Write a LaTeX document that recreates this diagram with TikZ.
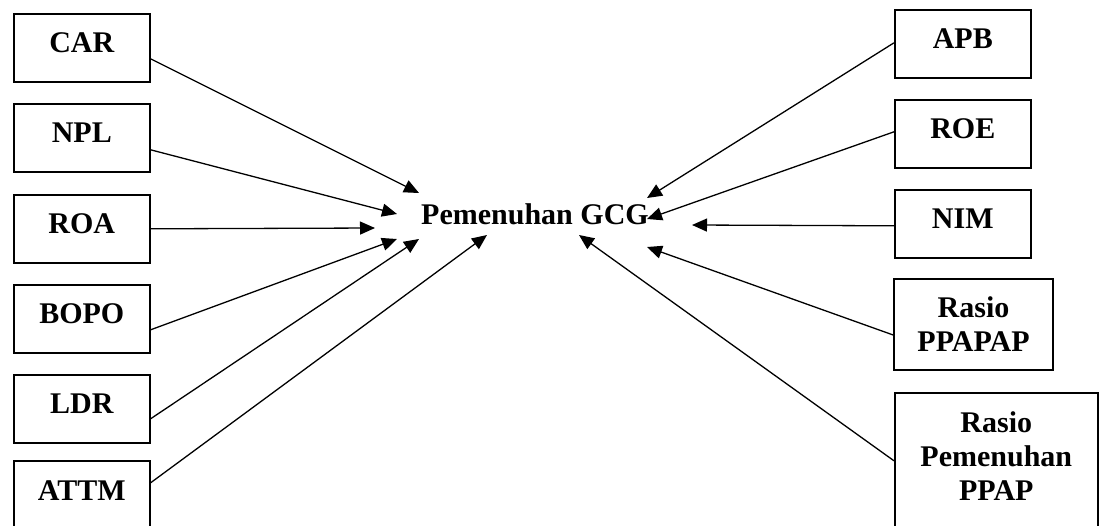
\documentclass[tikz,border=0pt]{standalone}
\usepackage{fontspec}
\setmainfont{Liberation Serif}
\usetikzlibrary{arrows.meta}
\begin{document}
\begin{tikzpicture}[x=1pt,y=-1pt,
  basebox/.style={draw,line width=1.6pt,inner xsep=0pt,inner ysep=0pt,font=\fontsize{30}{34}\selectfont\bfseries},
  box/.style={basebox,anchor=north west,minimum width=136pt,text height=39pt,text depth=29pt},
  conn/.style={line width=1.3pt,-{Triangle[length=15pt,width=13pt]}},
  lbl/.style={font=\fontsize{30}{34}\selectfont\bfseries,inner sep=0pt}]
\clip (0,0) rectangle (1099,525);
% left boxes
\node[box] (car) at (13,13) {CAR};
\node[box] (npl) at (13,103) {NPL};
\node[box] (roa) at (13,194) {ROA};
\node[box] (bopo) at (13,284) {BOPO};
\node[box] (ldr) at (13,374) {LDR};
\node[box,text height=40pt,text depth=40pt] (attm) at (13,460) {ATTM};
% right boxes
\node[box] (apb) at (894,9) {APB};
\node[box] (roe) at (894,99) {ROE};
\node[box] (nim) at (894,189) {NIM};
\node[basebox,align=center,minimum width=159pt,minimum height=91pt] (ppapap) at (973.5,324.5) {Rasio\\PPAPAP};
\node[basebox,align=center,anchor=north west,minimum width=203pt,text height=108pt,text depth=42pt] (rp) at (894,392) {Rasio\\Pemenuhan\\PPAP};
% centre
\node[lbl,anchor=base] (gcg) at (535,224) {Pemenuhan GCG};
% arrow tips
\coordinate (tcar) at (419,193);
\coordinate (tnpl) at (397,214);
\coordinate (troa) at (375,228);
\coordinate (tbopo) at (397,239);
\coordinate (tldr) at (419,239);
\coordinate (tattm) at (487,235);
\coordinate (tapb) at (647,198);
\coordinate (troe) at (647,219);
\coordinate (tnim) at (692,225);
\coordinate (tppapap) at (647,247);
\coordinate (trp) at (579,235);
% connectors
\draw[conn] ([yshift=-11pt]car.east) -- (tcar);
\draw[conn] ([yshift=-12pt]npl.east) -- (tnpl);
\draw[conn] (roa.east) -- (troa);
\draw[conn] ([yshift=-11pt]bopo.east) -- (tbopo);
\draw[conn] ([yshift=-10pt]ldr.east) -- (tldr);
\draw[conn] ([yshift=18pt]attm.east) -- (tattm);
\draw[conn] ([yshift=1pt]apb.west) -- (tapb);
\draw[conn] ([yshift=2pt]roe.west) -- (troe);
\draw[conn] ([yshift=-2pt]nim.west) -- (tnim);
\draw[conn] ([yshift=-10.5pt]ppapap.west) -- (tppapap);
\draw[conn] ([yshift=7pt]rp.west) -- (trp);
\end{tikzpicture}
\end{document}
